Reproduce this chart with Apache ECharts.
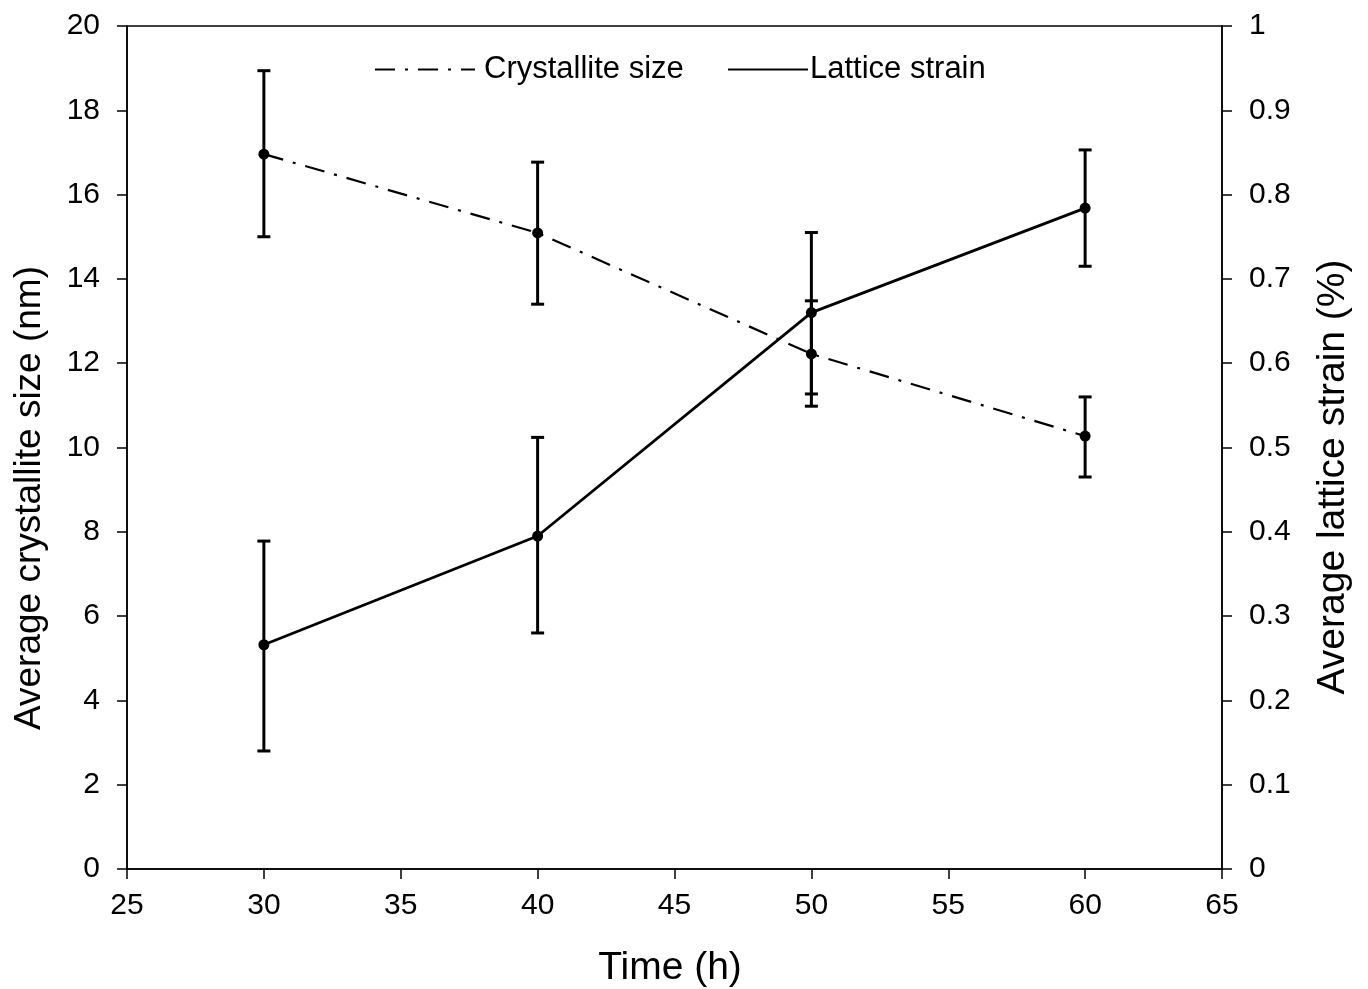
<!DOCTYPE html>
<html>
<head>
<meta charset="utf-8">
<script src="https://cdn.jsdelivr.net/npm/echarts@6/dist/echarts.min.js"></script>
<style>
html,body{margin:0;padding:0;background:#fff;}
#main{width:1368px;height:989px;}
</style>
</head>
<body>
<div id="main"></div>
<script>
const times = [30, 40, 50, 60];
const crystalliteSize = [16.96, 15.09, 12.22, 10.27];
const crystalliteLow = [15.0, 13.4, 11.27, 9.3];
const crystalliteHigh = [18.94, 16.77, 13.48, 11.2];
const latticeStrain = [0.266, 0.395, 0.66, 0.784];
const latticeLow = [0.14, 0.28, 0.549, 0.715];
const latticeHigh = [0.389, 0.512, 0.755, 0.853];
const xTitle = 'Time (h)';
const yLeftTitle = 'Average crystallite size (nm)';
const yRightTitle = 'Average lattice strain (%)';

const FONT = '"Liberation Sans", Arial, sans-serif';

function errRender(params, api) {
  const x = api.value(0);
  const lo = api.coord([x, api.value(1)]);
  const hi = api.coord([x, api.value(2)]);
  const hw = 6.5;
  const st = { stroke: '#000', lineWidth: 3 };
  return {
    type: 'group',
    children: [
      { type: 'line', shape: { x1: lo[0], y1: lo[1], x2: hi[0], y2: hi[1] }, style: st },
      { type: 'line', shape: { x1: lo[0] - hw, y1: lo[1], x2: lo[0] + hw, y2: lo[1] }, style: st },
      { type: 'line', shape: { x1: hi[0] - hw, y1: hi[1], x2: hi[0] + hw, y2: hi[1] }, style: st }
    ]
  };
}

const chart = echarts.init(document.getElementById('main'));
const axisCommon = {
  axisLine: { show: true, lineStyle: { color: '#000', width: 1.5 } },
  axisTick: { show: true, inside: false, length: 10, lineStyle: { color: '#000', width: 1.5 } },
  splitLine: { show: false },
};
const tickFont = { fontFamily: FONT, fontSize: 30, color: '#000' };
chart.setOption({
  animation: false,
  backgroundColor: '#fff',
  grid: { left: 127, right: 146, top: 26, bottom: 120, show: true, borderColor: '#000', borderWidth: 1.5, backgroundColor: 'transparent' },
  legend: [
    {
      top: 49, left: 369,
      itemWidth: 100, itemHeight: 14,
      textStyle: { fontFamily: FONT, fontSize: 31, color: '#000', padding: [0, 0, 0, 4] },
      itemStyle: { opacity: 0 },
      data: ['Crystallite size']
    },
    {
      top: 49, left: 722,
      itemWidth: 80, itemHeight: 14,
      textStyle: { fontFamily: FONT, fontSize: 31, color: '#000', padding: [0, 0, 0, -3] },
      itemStyle: { opacity: 0 },
      data: ['Lattice strain']
    }
  ],
  graphic: [
    { type: 'text', x: 670, y: 968, style: { text: xTitle, font: '39px "Liberation Sans", Arial, sans-serif', fill: '#000', textAlign: 'center', textVerticalAlign: 'middle' } },
    { type: 'text', x: 30, y: 498, rotation: Math.PI / 2, style: { text: yLeftTitle, font: '37px "Liberation Sans", Arial, sans-serif', fill: '#000', textAlign: 'center', textVerticalAlign: 'middle' } },
    { type: 'text', x: 1333, y: 477, rotation: Math.PI / 2, style: { text: yRightTitle, font: '39px "Liberation Sans", Arial, sans-serif', fill: '#000', textAlign: 'center', textVerticalAlign: 'middle' } }
  ],
  xAxis: Object.assign({}, axisCommon, {
    type: 'value', min: 25, max: 65, interval: 5,
    axisLabel: Object.assign({ margin: 22 }, tickFont)
  }),
  yAxis: [
    Object.assign({}, axisCommon, {
      type: 'value', min: 0, max: 20, interval: 2, position: 'left',
      axisLabel: Object.assign({ margin: 27 }, tickFont)
    }),
    Object.assign({}, axisCommon, {
      type: 'value', min: 0, max: 1, interval: 0.1, position: 'right',
      axisLabel: Object.assign({ margin: 27, formatter: v => String(Math.round(v * 10) / 10) }, tickFont)
    })
  ],
  series: [
    {
      name: 'Crystallite size', type: 'line', yAxisIndex: 0,
      data: times.map((t, i) => [t, crystalliteSize[i]]),
      symbol: 'circle', symbolSize: 11,
      itemStyle: { color: '#000' },
      lineStyle: { color: '#000', width: 2.2, type: [20, 10, 3, 10] },
      z: 3
    },
    {
      name: 'Lattice strain', type: 'line', yAxisIndex: 1,
      data: times.map((t, i) => [t, latticeStrain[i]]),
      symbol: 'circle', symbolSize: 11,
      itemStyle: { color: '#000' },
      lineStyle: { color: '#000', width: 2.8, type: 'solid' },
      z: 3
    },
    {
      type: 'custom', yAxisIndex: 0, renderItem: errRender, z: 2,
      data: times.map((t, i) => [t, crystalliteLow[i], crystalliteHigh[i]]),
      encode: { x: 0, y: [1, 2] }
    },
    {
      type: 'custom', yAxisIndex: 1, renderItem: errRender, z: 2,
      data: times.map((t, i) => [t, latticeLow[i], latticeHigh[i]]),
      encode: { x: 0, y: [1, 2] }
    }
  ]
});
</script>
</body>
</html>
